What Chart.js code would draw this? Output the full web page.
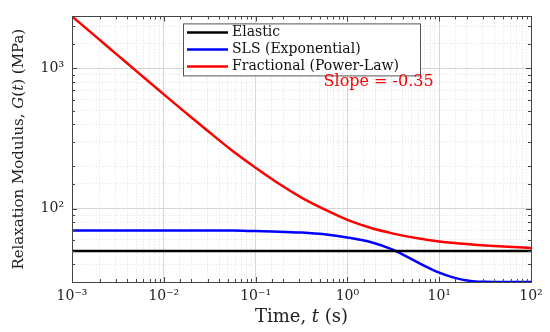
<!DOCTYPE html>
<html>
<head>
<meta charset="utf-8">
<script src="https://cdn.jsdelivr.net/npm/chart.js@4.4.0/dist/chart.umd.min.js"></script>
<style>
  html, body { margin: 0; padding: 0; background: #fff; }
</style>
</head>
<body>
<canvas id="chart" width="550" height="332"></canvas>
<script>
"use strict";

// ── Data (log-log) ────────────────────────────────────────────────────────
const timeS = [0.001, 0.00178, 0.00316, 0.00562, 0.01, 0.0178, 0.0316, 0.0562,
  0.1, 0.178, 0.316, 0.562, 1, 1.78, 3.16, 5.62, 10, 17.8, 31.6, 56.2, 100];

const elastic = [50, 50, 50, 50, 50, 50, 50, 50, 50, 50, 50,
  50, 50, 50, 50, 50, 50, 50, 50, 50, 50];

const sls = [70, 70, 70, 70, 70, 70, 69.9, 69.8, 69.2, 68.6, 67.5,
  65.6, 62.3, 57.8, 50.8, 41.9, 35.0, 31.2, 30.1, 30, 30];

const fractional = [2350, 1706, 1239, 899, 653, 476, 349, 258, 196, 151, 120,
  98.9, 83.2, 73.1, 66.4, 61.7, 58.3, 56.2, 54.7, 53.5, 52.5];

const seriesNames = ["Elastic", "SLS (Exponential)", "Fractional (Power-Law)"];
const seriesColors = ["#000000", "#0000ff", "#ff0000"];

const xRange = [0.001, 100];
const yRange = [30, 2350];

const slopeText = "Slope = -0.35";
const slopeAt = { t: 0.55, g: 800 };

// ── Helpers ────────────────────────────────────────────────────────────────
const SUP = { "-": "\u207B", "0": "\u2070", "1": "\u00B9", "2": "\u00B2", "3": "\u00B3",
  "4": "\u2074", "5": "\u2075", "6": "\u2076", "7": "\u2077", "8": "\u2078", "9": "\u2079" };

function isDecade(v) {
  const l = Math.log10(v);
  return Math.abs(l - Math.round(l)) < 1e-9;
}

function powLabel(v) {
  const e = String(Math.round(Math.log10(v)));
  return "10" + e.split("").map(c => SUP[c]).join("");
}

const SERIF = "'DejaVu Serif', 'Liberation Serif', serif";
Chart.defaults.font.family = SERIF;
Chart.defaults.color = "#222";

function pts(ys) {
  return timeS.map((t, i) => ({ x: t, y: ys[i] }));
}

// draw a run of [text, italic] pieces centred on cx
function drawRuns(ctx, runs, size, cx, cy) {
  const fonts = runs.map(r => (r[1] ? "italic " : "") + size + "px " + SERIF);
  let total = 0;
  const widths = runs.map((r, i) => { ctx.font = fonts[i]; const w = ctx.measureText(r[0]).width; total += w; return w; });
  let x = cx - total / 2;
  runs.forEach((r, i) => {
    ctx.font = fonts[i];
    ctx.fillText(r[0], x, cy);
    x += widths[i];
  });
}

// ── Frame, inward ticks, legend, labels ────────────────────────────────────
const decorations = {
  id: "decorations",
  afterDatasetsDraw(chart) {
    const { ctx, chartArea: a, scales } = chart;
    ctx.save();

    // inward tick marks on all four sides
    ctx.strokeStyle = "#444";
    ctx.lineWidth = 1;
    ctx.beginPath();
    for (const tk of scales.x.ticks) {
      const px = Math.round(scales.x.getPixelForValue(tk.value)) + 0.5;
      const len = isDecade(tk.value) ? 5 : 3;
      ctx.moveTo(px, a.bottom); ctx.lineTo(px, a.bottom - len);
      ctx.moveTo(px, a.top); ctx.lineTo(px, a.top + len);
    }
    for (const tk of scales.y.ticks) {
      const py = Math.round(scales.y.getPixelForValue(tk.value)) + 0.5;
      const len = isDecade(tk.value) ? 5 : 3;
      ctx.moveTo(a.left, py); ctx.lineTo(a.left + len, py);
      ctx.moveTo(a.right, py); ctx.lineTo(a.right - len, py);
    }
    ctx.stroke();

    // box
    ctx.strokeStyle = "#444";
    ctx.strokeRect(Math.round(a.left) + 0.5, Math.round(a.top) + 0.5,
      Math.round(a.right - a.left), Math.round(a.bottom - a.top));

    // legend
    const lx = a.left + 111, ly = a.top + 7, lw = 237, lh = 52;
    ctx.fillStyle = "#fff";
    ctx.fillRect(lx, ly, lw, lh);
    ctx.strokeStyle = "#555";
    ctx.strokeRect(lx + 0.5, ly + 0.5, lw, lh);
    ctx.font = "14px " + SERIF;
    ctx.textBaseline = "middle";
    ctx.textAlign = "left";
    chart.data.datasets.forEach((ds, i) => {
      const yy = ly + 9 + i * 17;
      ctx.strokeStyle = ds.borderColor;
      ctx.lineWidth = 2.5;
      ctx.beginPath();
      ctx.moveTo(lx + 4, yy); ctx.lineTo(lx + 45, yy);
      ctx.stroke();
      ctx.fillStyle = "#111";
      ctx.fillText(ds.label, lx + 49, yy);
    });

    // slope annotation
    ctx.fillStyle = "#ff0000";
    ctx.font = "16px " + SERIF;
    ctx.fillText(slopeText, scales.x.getPixelForValue(slopeAt.t), scales.y.getPixelForValue(slopeAt.g));

    // axis titles
    ctx.fillStyle = "#222";
    ctx.textBaseline = "middle";
    drawRuns(ctx, [["Time, ", false], ["t", true], [" (s)", false]], 18, (a.left + a.right) / 2, 317);
    ctx.translate(19, (a.top + a.bottom) / 2);
    ctx.rotate(-Math.PI / 2);
    drawRuns(ctx, [["Relaxation Modulus, ", false], ["G", true], ["(", false], ["t", true], [") (MPa)", false]], 15, 0, 0);

    ctx.restore();
  },
};

// ── Chart ──────────────────────────────────────────────────────────────────
const gridColor = c => (c.tick && isDecade(c.tick.value) ? "#d6d6d6" : "#e0e0e0");
const gridDash = c => (c.tick && isDecade(c.tick.value) ? [] : [1, 2]);

new Chart(document.getElementById("chart"), {
  type: "line",
  data: {
    datasets: [elastic, sls, fractional].map((ys, i) => ({
      label: seriesNames[i],
      data: pts(ys),
      borderColor: seriesColors[i],
      backgroundColor: seriesColors[i],
      borderWidth: 2.5,
      pointRadius: 0,
      cubicInterpolationMode: "monotone",
      fill: false,
    })),
  },
  options: {
    responsive: false,
    animation: false,
    layout: { padding: { top: 11, right: 19, left: 0, bottom: 0 } },
    plugins: { legend: { display: false }, tooltip: { enabled: false } },
    scales: {
      x: {
        type: "logarithmic",
        min: xRange[0],
        max: xRange[1],
        afterFit: s => { s.height = 50; },
        grid: { color: gridColor, lineWidth: 1, drawTicks: false },
        border: { display: false, dash: gridDash },
        ticks: {
          autoSkip: false, maxRotation: 0, padding: 6,
          font: { size: 14 }, color: "#222",
          callback: v => (isDecade(v) ? powLabel(v) : ""),
        },
      },
      y: {
        type: "logarithmic",
        min: yRange[0],
        max: yRange[1],
        afterFit: s => { s.width = 72; },
        grid: { color: gridColor, lineWidth: 1, drawTicks: false },
        border: { display: false, dash: gridDash },
        ticks: {
          autoSkip: false, padding: 8,
          font: { size: 14 }, color: "#222",
          callback: v => (isDecade(v) ? powLabel(v) : ""),
        },
      },
    },
  },
  plugins: [decorations],
});
</script>
</body>
</html>
